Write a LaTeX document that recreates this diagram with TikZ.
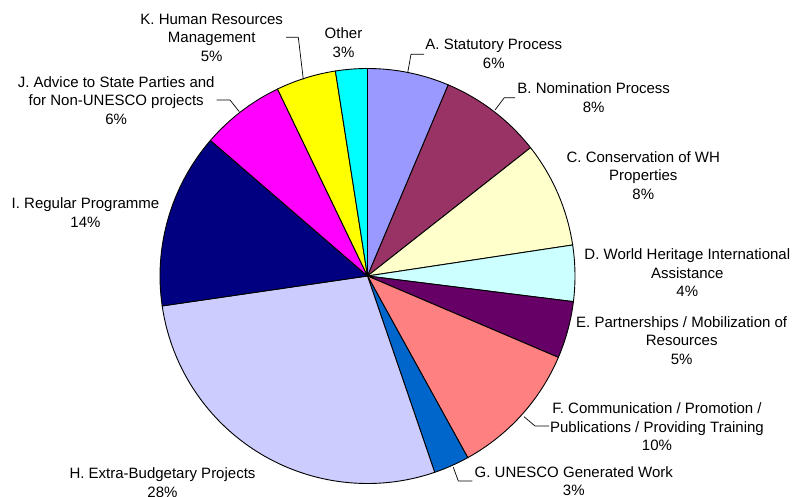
\documentclass[tikz,border=0pt]{standalone}
\usepackage{fontspec}
\setmainfont{Liberation Sans}
\definecolor{cA}{HTML}{9999FF}
\definecolor{cB}{HTML}{993366}
\definecolor{cC}{HTML}{FFFFCC}
\definecolor{cD}{HTML}{CCFFFF}
\definecolor{cE}{HTML}{660066}
\definecolor{cF}{HTML}{FF8080}
\definecolor{cG}{HTML}{0066CC}
\definecolor{cH}{HTML}{CCCCFF}
\definecolor{cI}{HTML}{000080}
\definecolor{cJ}{HTML}{FF00FF}
\definecolor{cK}{HTML}{FFFF00}
\definecolor{cO}{HTML}{00FFFF}
\newcommand\pieslice[3]{\filldraw[slicestyle, fill=#3] (O) -- ++(#1:207.5) arc[start angle=#1, end angle=#2, radius=207.5] -- cycle;}
\begin{document}
\begin{tikzpicture}[x=1bp,y=-1bp,
  slicestyle/.style={draw=black, line width=0.9bp, line join=round},
  lbl/.style={align=center, inner sep=0pt, font=\fontsize{15bp}{18.5bp}\selectfont},
  leader/.style={draw=black, line width=0.7bp}]
\useasboundingbox (0,0) rectangle (792,497);
\coordinate (O) at (367.5,276);
\pieslice{-90}{-67.1}{cA}
\pieslice{-67.1}{-38.2}{cB}
\pieslice{-38.2}{-8.6}{cC}
\pieslice{-8.6}{7.1}{cD}
\pieslice{7.1}{23.1}{cE}
\pieslice{23.1}{61.1}{cF}
\pieslice{61.1}{71.1}{cG}
\pieslice{71.1}{171.7}{cH}
\pieslice{171.7}{220.8}{cI}
\pieslice{220.8}{244.3}{cJ}
\pieslice{244.3}{261.1}{cK}
\pieslice{261.1}{270}{cO}
% labels
\node[lbl] (lO) at (343.5,42.5) {Other\\3\%};
\node[lbl] (lK) at (211.7,37.5) {K. Human Resources\\Management\\5\%};
\node[lbl] (lA) at (493.8,53.7) {A. Statutory Process\\6\%};
\node[lbl] (lB) at (593.7,97.8) {B. Nomination Process\\8\%};
\node[lbl] (lC) at (643.3,175.5) {C. Conservation of WH\\Properties\\8\%};
\node[lbl] (lD) at (687.3,272.7) {D. World Heritage International\\Assistance\\4\%};
\node[lbl] (lE) at (681.7,340.4) {E. Partnerships / Mobilization of\\Resources\\5\%};
\node[lbl] (lF) at (657,427) {F. Communication / Promotion /\\Publications / Providing Training\\10\%};
\node[lbl] (lG) at (573.8,481) {G. UNESCO Generated Work\\3\%};
\node[lbl] (lH) at (162.5,482.5) {H. Extra-Budgetary Projects\\28\%};
\node[lbl] (lI) at (85.5,212.5) {I. Regular Programme\\14\%};
\node[lbl] (lJ) at (116.2,100.6) {J. Advice to State Parties and\\for Non-UNESCO projects\\6\%};
% leader lines
\coordinate (kE) at (303.3,79.3); \coordinate (kK) at (298.3,37.3); \coordinate (kL) at (286,37.3);
\draw[leader] (kE) -- (kK) -- (kL);
\coordinate (aE) at (407.7,72.7); \coordinate (aK) at (411,54.3); \coordinate (aL) at (424,54.3);
\draw[leader] (aE) -- (aK) -- (aL);
\coordinate (bE) at (495,110); \coordinate (bK) at (504.3,97.7); \coordinate (bL) at (515,97.7);
\draw[leader] (bE) -- (bK) -- (bL);
\coordinate (fE) at (524,416.7); \coordinate (fK) at (535,426); \coordinate (fL) at (549,426);
\draw[leader] (fE) -- (fK) -- (fL);
\coordinate (gE) at (453.3,467.3); \coordinate (gK) at (458.3,481); \coordinate (gL) at (472.3,481);
\draw[leader] (gE) -- (gK) -- (gL);
\coordinate (jE) at (239.3,111.7); \coordinate (jK) at (230,100); \coordinate (jL) at (216.7,100);
\draw[leader] (jE) -- (jK) -- (jL);
\end{tikzpicture}
\end{document}
